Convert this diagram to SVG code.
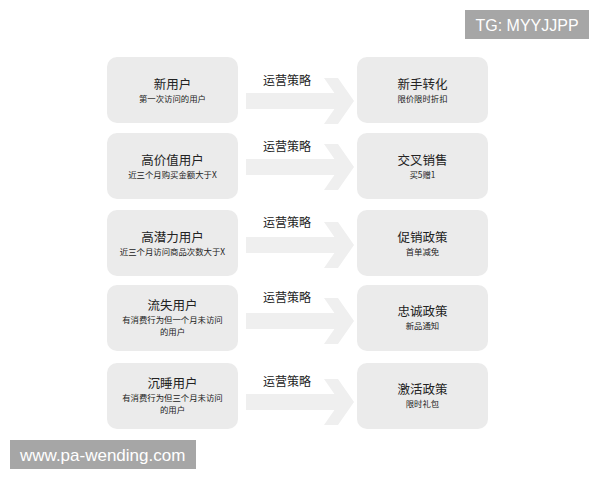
<svg xmlns="http://www.w3.org/2000/svg" width="600" height="480" viewBox="0 0 600 480">
<style>
.box{fill:#ebebeb}
.arrow{fill:#efefef}
.t{font-family:"Noto Sans CJK SC","Liberation Sans",sans-serif;fill:#222;text-anchor:middle}
.title{font-size:12.5px}
.sub{font-size:8.4px}
.lab{font-family:"Noto Sans CJK SC","Liberation Sans",sans-serif;font-size:12px;fill:#222}
.wm{fill:#a6a6a6}
.wmt{font-family:"Liberation Sans",Arial,sans-serif;fill:#ffffff}
</style>
<rect width="600" height="480" fill="#ffffff"/>
<g id="connectors">
<path class="arrow" d="M246,93 H334.4 L324,78 H338 L354,101 L338,124 H324 L334.4,109 H246 Z"/>
<path class="arrow" d="M246,159 H334.4 L324,144 H338 L354,167 L338,190 H324 L334.4,175 H246 Z"/>
<path class="arrow" d="M246,237 H334.4 L324,222 H338 L354,245 L338,268 H324 L334.4,253 H246 Z"/>
<path class="arrow" d="M246,313 H334.4 L324,298 H338 L354,321 L338,344 H324 L334.4,329 H246 Z"/>
<path class="arrow" d="M246,394 H334.4 L324,379 H338 L354,402 L338,425 H324 L334.4,410 H246 Z"/>
<text class="lab" x="263" y="85">运营策略</text>
<text class="lab" x="263" y="151">运营策略</text>
<text class="lab" x="263" y="227">运营策略</text>
<text class="lab" x="263" y="302">运营策略</text>
<text class="lab" x="263" y="386">运营策略</text>
</g>
<g id="n1">
<rect class="box" x="107" y="57" width="131" height="66" rx="10"/>
<text class="t title" x="172.5" y="89">新用户</text>
<text class="t sub" x="172.5" y="102">第一次访问的用户</text>
</g>
<g id="n2">
<rect class="box" x="107" y="133" width="131" height="66" rx="10"/>
<text class="t title" x="172.5" y="165">高价值用户</text>
<text class="t sub" x="172.5" y="178">近三个月购买金额大于X</text>
</g>
<g id="n3">
<rect class="box" x="107" y="210" width="131" height="66" rx="10"/>
<text class="t title" x="172.5" y="242">高潜力用户</text>
<text class="t sub" x="172.5" y="255">近三个月访问商品次数大于X</text>
</g>
<g id="n4">
<rect class="box" x="107" y="285" width="131" height="66" rx="10"/>
<text class="t title" x="172.5" y="310">流失用户</text>
<text class="t sub" x="172.5" y="323">有消费行为但一个月未访问</text>
<text class="t sub" x="172.5" y="335">的用户</text>
</g>
<g id="n5">
<rect class="box" x="107" y="363" width="131" height="66" rx="10"/>
<text class="t title" x="172.5" y="388">沉睡用户</text>
<text class="t sub" x="172.5" y="401">有消费行为但三个月未访问</text>
<text class="t sub" x="172.5" y="413">的用户</text>
</g>
<g id="m1">
<rect class="box" x="357" y="57" width="131" height="66" rx="10"/>
<text class="t title" x="422.5" y="89">新手转化</text>
<text class="t sub" x="422.5" y="102">限价限时折扣</text>
</g>
<g id="m2">
<rect class="box" x="357" y="133" width="131" height="66" rx="10"/>
<text class="t title" x="422.5" y="165">交叉销售</text>
<text class="t sub" x="422.5" y="178">买5赠1</text>
</g>
<g id="m3">
<rect class="box" x="357" y="210" width="131" height="66" rx="10"/>
<text class="t title" x="422.5" y="242">促销政策</text>
<text class="t sub" x="422.5" y="255">首单减免</text>
</g>
<g id="m4">
<rect class="box" x="357" y="285" width="131" height="66" rx="10"/>
<text class="t title" x="422.5" y="316">忠诚政策</text>
<text class="t sub" x="422.5" y="329">新品通知</text>
</g>
<g id="m5">
<rect class="box" x="357" y="363" width="131" height="66" rx="10"/>
<text class="t title" x="422.5" y="394">激活政策</text>
<text class="t sub" x="422.5" y="407">限时礼包</text>
</g>
<g id="watermarks">
<rect class="wm" x="465" y="10" width="124" height="29"/>
<text class="wmt" x="527" y="31" font-size="16" text-anchor="middle">TG: MYYJJPP</text>
<rect class="wm" x="10" y="440" width="186" height="29"/>
<text class="wmt" x="20" y="461" font-size="17">www.pa-wending.com</text>
</g>
</svg>
